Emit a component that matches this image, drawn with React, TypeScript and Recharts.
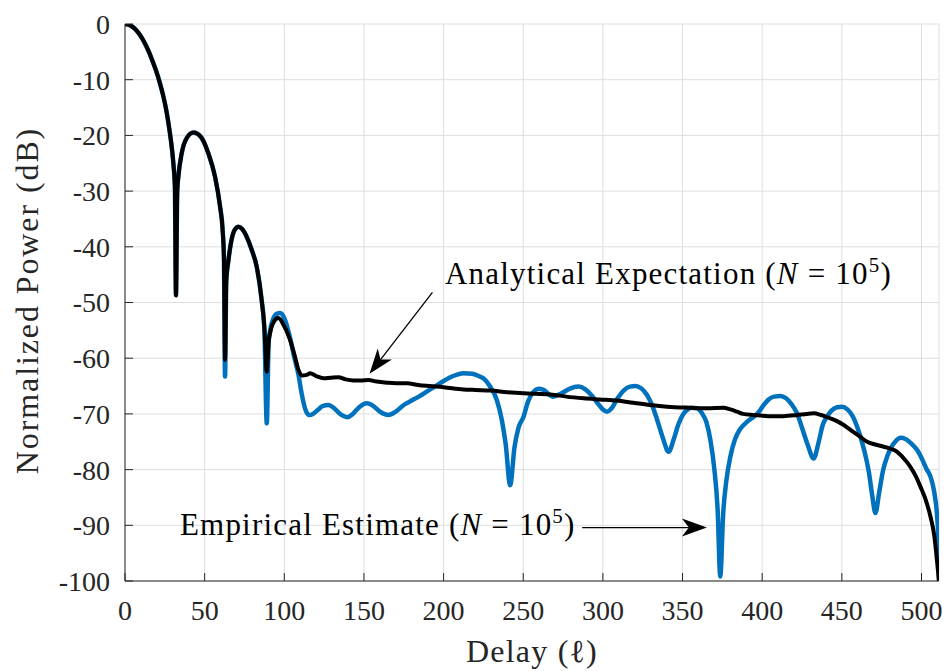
import React from 'react';
import { LineChart, Line, XAxis, YAxis, CartesianGrid, ReferenceLine, ReferenceDot } from 'recharts';

// delay (samples) and normalized power (dB)
const analyticalDelay = [
  0, 3, 6, 9, 12, 15, 18, 20, 22, 24, 26, 28, 29.5, 30.5, 31.3, 32, 32.8, 33.5, 35.6, 38.7,
  42.9, 45.5, 48.2, 52.3, 56.5, 59.7, 61.3, 62.1, 62.8, 63.6, 64.9, 67, 69, 71.2, 73.5, 76.4,
  79.5, 82.7, 85.8, 87.5, 89, 90.2, 91.1, 93.2, 96.3, 99.5, 103.6, 106.5, 108.9, 111, 114.1,
  116.2, 120, 124.6, 129, 134, 138.5, 143.4, 148, 152.8, 158, 164.4, 170, 177, 184, 191.6, 200,
  212.5, 220, 229.3, 240, 250.2, 258, 267, 277, 287.9, 298, 308.8, 319, 329.8, 340.3, 354.9,
  365.4, 375.8, 380, 384.2, 388, 394.7, 404, 413.5, 422, 428, 432.3, 437, 442.8, 447, 451.2,
  456, 461, 465.9, 471, 476.3, 481, 484.7, 488, 491, 493, 496.5, 499.4, 502.5, 505.7, 508,
  509.9, 511,
];
const analyticalPower = [
  0, -0.2, -0.8, -1.8, -3.2, -5, -7.2, -8.8, -10.7, -12.9, -15.6, -19.2, -22.5, -25.5, -29, -48.7,
  -30, -27.4, -23.2, -20.5, -19.5, -19.7, -20.5, -23.2, -27.4, -32.8, -37, -42, -60.3, -46, -42.5,
  -38.6, -36.9, -36.4, -36.8, -38.2, -40.5, -43.6, -49.6, -54.5, -62.4, -57, -55.5, -53.6, -52.8,
  -54, -56.7, -59.5, -62.1, -63.1, -63, -62.7, -63.2, -63.6, -63.5, -63.4, -63.8, -64, -64, -63.9,
  -64.2, -64.4, -64.5, -64.5, -64.8, -65, -65.2, -65.6, -65.7, -65.8, -66.1, -66.3, -66.4, -66.5,
  -66.9, -67.2, -67.4, -67.6, -68, -68.4, -68.7, -68.9, -69, -68.9, -69.2, -69.6, -70, -70.2,
  -70.4, -70.4, -70.2, -70, -69.9, -70.2, -70.8, -71.3, -72, -73, -74, -75, -75.5, -75.9, -76.3,
  -76.8, -77.7, -78.7, -79.5, -81.2, -83.1, -85.3, -88.5, -91.8, -96.8, -100,
];

const empiricalDelay = [
  0, 3, 6, 9, 12, 15, 18, 20, 22, 24, 26, 28, 29.5, 30.5, 31.3, 32, 32.8, 33.5, 35.6, 38.7,
  42.9, 45.5, 48.2, 52.3, 56.5, 59.7, 61.3, 62.1, 62.8, 63.6, 64.9, 67, 69, 71.2, 73.5, 76.4,
  79.5, 82.7, 85.8, 87.5, 89, 90.2, 91.1, 93.2, 95.5, 97.4, 100, 103.6, 106, 108.9, 111, 113,
  115.5, 118, 121, 124, 127.7, 131, 134.5, 139.6, 143, 147, 151.8, 156, 160, 165.4, 170, 175,
  180, 185, 189.4, 195, 200, 206, 212.5, 218, 222, 225, 229, 233.4, 236.5, 239, 241.8, 244.5,
  247, 250.2, 253, 256.5, 259.5, 262.7, 268.5, 274, 279, 284.7, 289, 293, 297, 300, 302.6,
  305.5, 309, 313, 317, 320.4, 324, 327.5, 331, 334, 337.5, 341.3, 344.5, 347.5, 350.5, 352.8,
  355.5, 359.1, 362, 365, 367.5, 370, 372, 373.7, 375.5, 377.5, 380, 383, 386, 388.4, 391,
  394.7, 398, 401, 404, 407.5, 411.4, 415, 418.5, 421.9, 425, 428.5, 432.3, 435.5, 438, 440.7,
  443.5, 447, 450.1, 453.5, 457, 459.5, 461.7, 464, 467, 469, 471.1, 473.5, 476, 478.4, 481,
  483.5, 486.8, 490, 493.5, 497.3, 500.5, 503, 505.7, 508, 509.7, 510.5, 511,
];
const empiricalPower = [
  0, -0.2, -0.8, -1.8, -3.2, -5, -7.2, -8.8, -10.7, -12.9, -15.6, -19.2, -22.5, -25.5, -29, -48.7,
  -30, -27.4, -23.2, -20.5, -19.5, -19.7, -20.5, -23.2, -27.4, -32.8, -37, -42, -63.3, -46, -42.5,
  -38.6, -36.9, -36.4, -36.8, -38.2, -40.5, -43.6, -49.6, -55, -71.7, -57, -55, -52.8, -52, -51.9,
  -52.8, -56.3, -59.5, -63, -66.5, -69, -70.2, -70, -69.3, -68.6, -68.4, -68.9, -69.9, -70.6, -70,
  -68.8, -68.1, -68.6, -69.6, -70.2, -69.6, -68.4, -67.6, -66.8, -66, -65, -64.1, -63.2, -62.7,
  -62.8, -63.2, -63.6, -65, -67.5, -71, -75.5, -82.8, -76, -72.5, -70.5, -67.8, -66, -65.5, -65.7,
  -66.9, -66.3, -65.5, -65.1, -65.6, -66.7, -68.2, -69.2, -69.6, -69, -67.3, -65.8, -65.1, -65,
  -65.4, -66.5, -68.5, -71, -74.2, -76.8, -74.5, -71.8, -70, -69.3, -68.9, -69, -69.8, -71.5,
  -74.7, -80, -87, -99.2, -88, -82, -77.7, -74.5, -72.8, -72, -71.3, -70.5, -69.6, -68.4, -67.4,
  -66.9, -66.8, -67.2, -68.3, -69.9, -72.5, -75.5, -78, -75, -72, -70.5, -69.4, -68.8, -68.7,
  -69.2, -70.5, -72.2, -74.1, -76.5, -80.5, -84.5, -87.8, -84, -80, -77.7, -76, -75, -74.3, -74.5,
  -75.3, -76.5, -78.2, -79.8, -81.3, -84, -88, -92, -100,
];

const delayTicks = [0, 50, 100, 150, 200, 250, 300, 350, 400, 450, 500];
const powerTicks = [0, -10, -20, -30, -40, -50, -60, -70, -80, -90, -100];

const analyticalRows = analyticalDelay.map((d, i) => ({ delay: d, power: analyticalPower[i] }));
const empiricalRows = empiricalDelay.map((d, i) => ({ delay: d, power: empiricalPower[i] }));

const FONT = '"Liberation Serif", "Times New Roman", serif';
const AXIS = '#262626';

function Arrow(props: any) {
  const { x1, y1, x2, y2 } = props;
  const a = Math.atan2(y2 - y1, x2 - x1);
  const c = Math.cos(a);
  const s = Math.sin(a);
  const len = 25;
  const half = 9;
  const notch = 7;
  const bx = x2 - len * c;
  const by = y2 - len * s;
  const nx = x2 - (len - notch) * c;
  const ny = y2 - (len - notch) * s;
  const pts = `${x2},${y2} ${bx - half * s},${by + half * c} ${nx},${ny} ${bx + half * s},${by - half * c}`;
  return (
    <g>
      <line x1={x1} y1={y1} x2={nx} y2={ny} stroke="#000" strokeWidth={1.3} />
      <polygon points={pts} fill="#000" />
    </g>
  );
}

function note(label: string) {
  return (p: any) => (
    <text x={p.cx} y={p.cy} fontFamily={FONT} fontSize={31} letterSpacing={1.2} fill="#000">
      {label + ' ('}
      <tspan fontStyle="italic">N</tspan>
      {' = 10'}
      <tspan dy={-12} fontSize={21}>5</tspan>
      <tspan dy={12}>)</tspan>
    </text>
  );
}

const yTitle = (p: any) => {
  const vb = p.viewBox;
  const x = vb.x + 38;
  const y = vb.y + vb.height / 2 - 2;
  return (
    <text x={x} y={y} transform={`rotate(-90, ${x}, ${y})`} textAnchor="middle"
      fontFamily={FONT} fontSize={32} letterSpacing={1.9} fill={AXIS}>
      Normalized Power (dB)
    </text>
  );
};

const xTitle = (p: any) => {
  const vb = p.viewBox;
  return (
    <text x={vb.x + vb.width / 2} y={vb.y + 81} textAnchor="middle"
      fontFamily={FONT} fontSize={32} letterSpacing={1.2} fill={AXIS}>
      Delay (ℓ)
    </text>
  );
};

export default function App() {
  const tickStyle = { fill: AXIS, fontSize: 28, fontFamily: FONT };
  return (
    <div style={{ position: 'absolute', left: 0, top: 0, width: 946, height: 671, overflow: 'hidden', background: '#fff' }}>
      <LineChart width={946} height={671} margin={{ top: 24, right: 7, bottom: 0, left: 0 }}>
        <CartesianGrid stroke="#dedede" strokeWidth={1} />
        <XAxis
          dataKey="delay"
          type="number"
          domain={[0, 511]}
          allowDataOverflow
          ticks={delayTicks}
          interval={0}
          height={90}
          tickSize={-8}
          tickMargin={27}
          tick={tickStyle}
          stroke={AXIS}
          label={xTitle}
        />
        <XAxis xAxisId="top" orientation="top" dataKey="delay" type="number" domain={[0, 511]}
          allowDataOverflow ticks={delayTicks} interval={0} height={0} tickSize={-8} tick={false} stroke={AXIS} />
        <YAxis
          type="number"
          domain={[-100, 0]}
          allowDataOverflow
          ticks={powerTicks}
          interval={0}
          width={125}
          tickSize={-8}
          tickMargin={23}
          tick={tickStyle}
          stroke={AXIS}
          label={yTitle}
        />
        <YAxis yAxisId="right" orientation="right" type="number" domain={[-100, 0]} allowDataOverflow
          ticks={powerTicks} interval={0} width={0} tickSize={-8} tick={false} stroke={AXIS} />
        <Line data={empiricalRows} dataKey="power" type="monotone" stroke="#0072BD" strokeWidth={4.5}
          strokeLinejoin="round" dot={false} isAnimationActive={false} />
        <Line data={analyticalRows} dataKey="power" type="monotone" stroke="#000" strokeWidth={4}
          strokeLinejoin="round" dot={false} isAnimationActive={false} />
        <ReferenceLine segment={[{ x: 193, y: -48.2 }, { x: 153.5, y: -62.8 }]} shape={Arrow} ifOverflow="visible" />
        <ReferenceLine segment={[{ x: 287, y: -90.4 }, { x: 365.3, y: -90.4 }]} shape={Arrow} ifOverflow="visible" />
        <ReferenceDot x={200.9} y={-46.7} r={0} shape={note('Analytical Expectation')} ifOverflow="visible" />
        <ReferenceDot x={34.5} y={-91.7} r={0} shape={note('Empirical Estimate')} ifOverflow="visible" />
      </LineChart>
    </div>
  );
}
